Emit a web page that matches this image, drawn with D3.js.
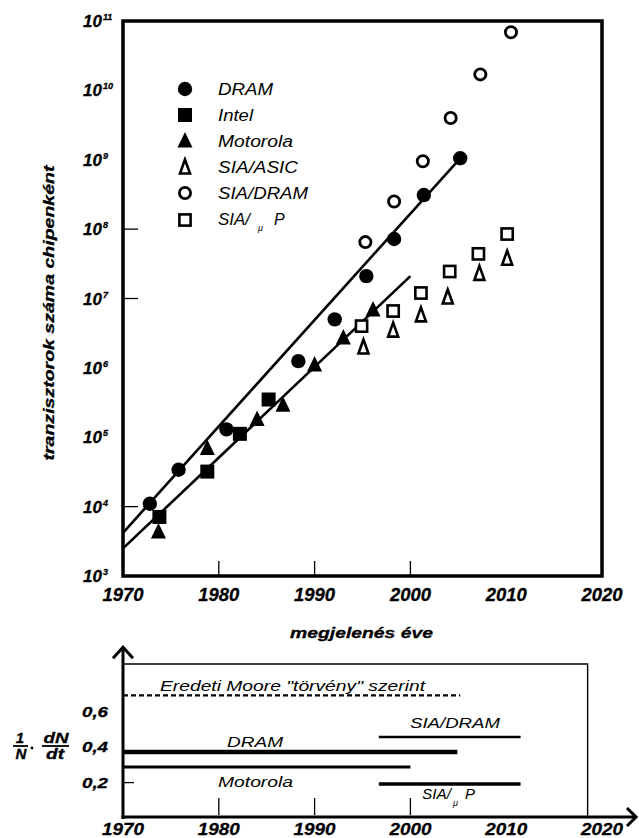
<!DOCTYPE html>
<html><head><meta charset="utf-8">
<script src="https://cdn.jsdelivr.net/npm/d3@7"></script>
<style>html,body{margin:0;padding:0;background:#fff;}</style>
</head><body>
<svg id="c" width="639" height="838"></svg>
<script>
// ---------- data ----------
const dramYears = [1972.8, 1975.8, 1980.8, 1988.3, 1992.1, 1995.4, 1998.3, 2001.4, 2005.2];
const dramVals  = [1.1e4, 3.4e4, 1.3e5, 1.25e6, 5e6, 2.1e7, 7.2e7, 3.1e8, 1.05e9];
const intelYears = [1973.8, 1978.8, 1982.2, 1985.2];
const intelVals  = [7.1e3, 3.2e4, 1.12e5, 3.5e5];
const motorolaYears = [1973.7, 1978.8, 1984.0, 1986.7, 1990.0, 1993.0, 1996.1];
const motorolaVals  = [4.3e3, 6.9e4, 1.8e5, 2.9e5, 1.1e6, 2.7e6, 6.8e6];
const siaAsicYears = [1995.1, 1998.2, 2001.1, 2003.9, 2007.2, 2010.1];
const siaAsicVals  = [2.0e6, 3.5e6, 5.8e6, 1.05e7, 2.3e7, 3.8e7];
const siaDramYears = [1995.3, 1998.3, 2001.3, 2004.2, 2007.3, 2010.5];
const siaDramVals  = [6.5e7, 2.5e8, 9.5e8, 4.0e9, 1.7e10, 6.9e10];
const siaMpYears = [1994.9, 1998.2, 2001.1, 2004.1, 2007.1, 2010.1];
const siaMpVals  = [4.0e6, 6.6e6, 1.2e7, 2.45e7, 4.4e7, 8.5e7];
const dramFitYears = [1970, 2005.2];
const dramFitVals  = [4.2e3, 1.05e9];
const motorolaFitYears = [1970, 2000];
const motorolaFitVals  = [2.5e3, 2.1e7];
const legendLabels = ["DRAM", "Intel", "Motorola", "SIA/ASIC", "SIA/DRAM", "SIA/μP"];
const yearTicks = [1970, 1980, 1990, 2000, 2010, 2020];
const exponents = [3, 4, 5, 6, 7, 8, 9, 10, 11];
// growth rates (1/N dN/dt)
const rateLabels = ["Eredeti Moore \"törvény\" szerint", "DRAM", "Motorola", "SIA/DRAM", "SIA/μP"];
const rateValues = [0.693, 0.373, 0.288, 0.458, 0.192];
const rateStart  = [1970, 1970, 1970, 1996.7, 1996.7];
const rateEnd    = [2005.2, 2004.9, 2000, 2011.5, 2011.5];
const rateTicks = [0.2, 0.4, 0.6];
const rateTickLabels = ["0,2", "0,4", "0,6"];

// ---------- setup ----------
const svg = d3.select("#c");
const FONT = "'Liberation Sans', Arial, Helvetica, sans-serif";
const x = d3.scaleLinear().domain([1970, 2020]).range([123, 602]);
const y = d3.scaleLog().domain([1e3, 1e11]).range([576, 21]);
const yB = d3.scaleLinear().domain([0, 1]).range([818, 641]);

function txt(g, s, px, py, o) {
  o = o || {};
  const t = g.append("text").attr("x", px).attr("y", py)
    .attr("font-family", FONT)
    .attr("font-size", o.size || 15)
    .attr("font-weight", o.weight || "normal")
    .attr("font-style", o.style || "italic")
    .attr("text-anchor", o.anchor || "start")
    .attr("fill", "#000")
    .text(s);
  if (o.width) t.attr("textLength", o.width).attr("lengthAdjust", "spacingAndGlyphs");
  if (o.transform) t.attr("transform", o.transform);
  if (o.stroke) t.attr("stroke", "#000").attr("stroke-width", o.stroke);
  return t;
}

function marker(g, type, cx, cy) {
  if (type === "circle") {
    g.append("circle").attr("cx", cx).attr("cy", cy).attr("r", 7.2).attr("fill", "#000");
  } else if (type === "square") {
    g.append("rect").attr("x", cx - 7).attr("y", cy - 7).attr("width", 14).attr("height", 14).attr("fill", "#000");
  } else if (type === "triangle") {
    g.append("path").attr("d", `M${cx},${cy - 9}L${cx - 7.5},${cy + 6.5}L${cx + 7.5},${cy + 6.5}Z`).attr("fill", "#000");
  } else if (type === "otriangle") {
    g.append("path").attr("d", `M${cx},${cy - 7.5}L${cx - 5},${cy + 6.5}L${cx + 5},${cy + 6.5}Z`)
      .attr("fill", "#fff").attr("stroke", "#000").attr("stroke-width", 2.6).attr("stroke-linejoin", "miter");
  } else if (type === "ocircle") {
    g.append("circle").attr("cx", cx).attr("cy", cy).attr("r", 5.6)
      .attr("fill", "#fff").attr("stroke", "#000").attr("stroke-width", 2.8);
  } else if (type === "osquare") {
    g.append("rect").attr("x", cx - 5.6).attr("y", cy - 5.6).attr("width", 11.2).attr("height", 11.2)
      .attr("fill", "#fff").attr("stroke", "#000").attr("stroke-width", 2.6);
  }
}

// ---------- top panel ----------
const gTop = svg.append("g");
gTop.append("rect").attr("x", x(1970)).attr("y", y(1e11))
  .attr("width", x(2020) - x(1970)).attr("height", y(1e3) - y(1e11))
  .attr("fill", "none").attr("stroke", "#000").attr("stroke-width", 3.5);

// y ticks (only some drawn in original)
[1e4, 1e7, 1e8].forEach(v => {
  gTop.append("line").attr("x1", x(1970)).attr("x2", x(1970) + 15)
    .attr("y1", y(v)).attr("y2", y(v)).attr("stroke", "#000").attr("stroke-width", 1.3);
});
[1980, 1990, 2000].forEach(v => {
  gTop.append("line").attr("x1", x(v)).attr("x2", x(v))
    .attr("y1", y(1e3)).attr("y2", y(1e3) - 15).attr("stroke", "#000").attr("stroke-width", 1.3);
});

// y tick labels 10^n
exponents.forEach(e => {
  const t = gTop.append("text").attr("x", 83).attr("y", y(Math.pow(10, e)) + 6)
    .attr("font-family", FONT).attr("font-size", 17).attr("font-weight", "bold")
    .attr("font-style", "italic").attr("fill", "#000").attr("stroke", "#000").attr("stroke-width", 0.3);
  t.append("tspan").text("10");
  t.append("tspan").attr("dy", -7).attr("dx", 1).attr("font-size", 9).text(String(e));
});
// x tick labels
yearTicks.forEach(v => txt(gTop, String(v), x(v), 601, {size: 18, weight: "bold", anchor: "middle", width: 41, stroke: 0.3}));

// axis titles
txt(gTop, "megjelenés éve", 290, 638, {size: 15, weight: "bold", width: 143, stroke: 0.3});
txt(gTop, "tranzisztorok száma chipenként", 0, 0, {size: 15, weight: "bold", anchor: "middle", width: 295,
  transform: "translate(54,313) rotate(-90)", stroke: 0.3});

// fit lines
const line = d3.line().x(d => x(d[0])).y(d => y(d[1]));
gTop.append("path").datum(dramFitYears.map((v, i) => [v, dramFitVals[i]])).attr("d", line)
  .attr("stroke", "#000").attr("stroke-width", 2.6).attr("fill", "none");
gTop.append("path").datum(motorolaFitYears.map((v, i) => [v, motorolaFitVals[i]])).attr("d", line)
  .attr("stroke", "#000").attr("stroke-width", 2.6).attr("fill", "none");

// points
const series = [
  [dramYears, dramVals, "circle"],
  [intelYears, intelVals, "square"],
  [motorolaYears, motorolaVals, "triangle"],
  [siaAsicYears, siaAsicVals, "otriangle"],
  [siaDramYears, siaDramVals, "ocircle"],
  [siaMpYears, siaMpVals, "osquare"]
];
series.forEach(s => s[0].forEach((yr, i) => marker(gTop, s[2], x(yr), y(s[1][i]))));

// legend
const legY = [89, 115, 141, 167, 193, 220];
const legW = [55, 35, 75, 80, 90, null];
series.forEach((s, i) => {
  marker(gTop, s[2], 185, legY[i]);
  if (i < 5) txt(gTop, legendLabels[i], 218, legY[i] + 6, {size: 16, width: legW[i]});
});
txt(gTop, "SIA/", 218, legY[5] + 5, {size: 16, width: 32});
txt(gTop, "μ", 258, legY[5] + 11, {size: 9});
txt(gTop, "P", 274, legY[5] + 5, {size: 16});

// ---------- bottom panel ----------
const bot = svg.append("g");
// thin box
bot.append("path").attr("d", `M${x(1970)},${yB(0.87)}H${x(2018.5)}V${yB(0)}`)
  .attr("fill", "none").attr("stroke", "#000").attr("stroke-width", 1.4);
// axes
bot.append("line").attr("x1", x(1970)).attr("x2", x(1970)).attr("y1", yB(0.965)).attr("y2", yB(0) + 1)
  .attr("stroke", "#000").attr("stroke-width", 3);
bot.append("path").attr("d", `M${x(1970) - 10},${yB(0.965) + 11}L${x(1970)},${yB(0.965)}L${x(1970) + 10},${yB(0.965) + 11}`)
  .attr("fill", "none").attr("stroke", "#000").attr("stroke-width", 3);
bot.append("line").attr("x1", x(1970) - 1.5).attr("x2", 636).attr("y1", yB(0) - 1).attr("y2", yB(0) - 1)
  .attr("stroke", "#000").attr("stroke-width", 3);
bot.append("path").attr("d", `M627,${yB(0) - 10}L636,${yB(0) - 1}L627,${yB(0) + 8}`)
  .attr("fill", "none").attr("stroke", "#000").attr("stroke-width", 3);
// ticks
[1980, 1990, 2000].forEach(v => {
  bot.append("line").attr("x1", x(v)).attr("x2", x(v)).attr("y1", yB(0) - 3).attr("y2", yB(0) - 20)
    .attr("stroke", "#000").attr("stroke-width", 1.3);
});
bot.append("line").attr("x1", x(1970)).attr("x2", x(1970) + 11).attr("y1", yB(0.2)).attr("y2", yB(0.2))
  .attr("stroke", "#000").attr("stroke-width", 1.3);
rateTicks.forEach((v, i) => txt(bot, rateTickLabels[i], 82, yB(v) + 5, {size: 15, weight: "bold", width: 26, stroke: 0.3}));
yearTicks.forEach(v => txt(bot, String(v), x(v), 835, {size: 17, weight: "bold", anchor: "middle", width: 42, stroke: 0.3}));

// rate lines
const rateW = [2.4, 4.5, 3, 2.6, 3.6];
rateValues.forEach((v, i) => {
  const l = bot.append("line").attr("x1", x(rateStart[i])).attr("x2", x(rateEnd[i]))
    .attr("y1", yB(v)).attr("y2", yB(v)).attr("stroke", "#000").attr("stroke-width", rateW[i]);
  if (i === 0) l.attr("stroke-dasharray", "5,3");
});
txt(bot, rateLabels[0], 160, 691, {size: 15, width: 265});
txt(bot, rateLabels[1], 227, 747, {size: 15, width: 56});
txt(bot, rateLabels[2], 218, 787, {size: 15, width: 75});
txt(bot, rateLabels[3], 410, 728, {size: 15, width: 90});
txt(bot, "SIA/", 422, 799, {size: 15, width: 29});
txt(bot, "μ", 453, 806, {size: 9});
txt(bot, "P", 465, 799, {size: 15});

// y label fraction 1/N · dN/dt
const fr = svg.append("g");
txt(fr, "1", 20, 743, {size: 15, weight: "bold", anchor: "middle", stroke: 0.3});
txt(fr, "N", 21, 759, {size: 15, weight: "bold", anchor: "middle", stroke: 0.3});
fr.append("line").attr("x1", 13).attr("x2", 28).attr("y1", 746).attr("y2", 746).attr("stroke", "#000").attr("stroke-width", 1.8);
fr.append("circle").attr("cx", 32).attr("cy", 748).attr("r", 1.4).attr("fill", "#000");
txt(fr, "dN", 56, 743, {size: 15, weight: "bold", anchor: "middle", width: 25, stroke: 0.3});
txt(fr, "dt", 55, 759, {size: 15, weight: "bold", anchor: "middle", width: 18, stroke: 0.3});
fr.append("line").attr("x1", 42).attr("x2", 69).attr("y1", 746).attr("y2", 746).attr("stroke", "#000").attr("stroke-width", 1.8);
</script>
</body></html>
